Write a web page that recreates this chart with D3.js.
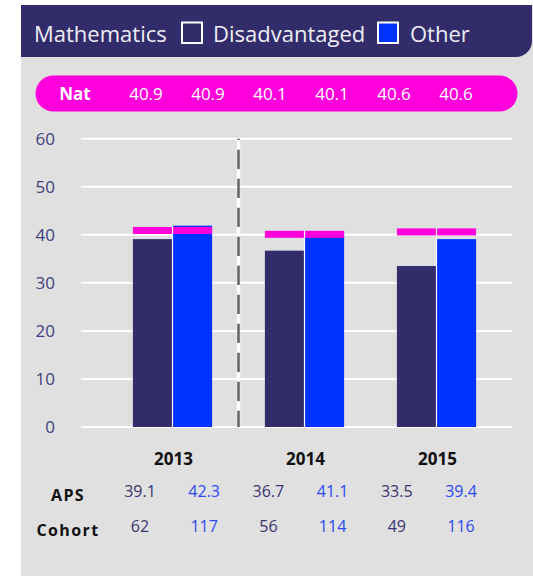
<!DOCTYPE html>
<html>
<head>
<meta charset="utf-8">
<script src="https://cdn.jsdelivr.net/npm/d3@7"></script>
<style>
  body { margin: 0; background: #fff; }
  svg { display: block; font-family: "Open Sans", sans-serif; }
</style>
</head>
<body>
<div id="chart"></div>
<script>
// data
var years = ["2013", "2014", "2015"];
var groups = ["Disadvantaged", "Other"];
var yTicks = [0, 10, 20, 30, 40, 50, 60];

// bar heights
var disBars = [39.1, 36.7, 33.5];
var othBars = [41.9, 40.4, 39.1];

// national average, one per bar (also shown in the pink strip)
var natValues = [40.9, 40.9, 40.1, 40.1, 40.6, 40.6];

// table under the chart
var apsDis = [39.1, 36.7, 33.5];
var apsOth = [42.3, 41.1, 39.4];
var cohortDis = [62, 56, 49];
var cohortOth = [117, 114, 116];

var W = 533, H = 576;
var colDark = "#332c6b", colBlue = "#0033ff", colPink = "#ff00dc";
var txtDark = "#3a356f", txtBlue = "#2a48f0";

var svg = d3.select("#chart")
  .append("svg")
    .attr("width", W)
    .attr("height", H);

// panel + header
svg.append("rect")
  .attr("x", 21).attr("y", 5)
  .attr("width", W - 21).attr("height", H - 5)
  .attr("fill", "#e0e0e0");

svg.append("path")
  .attr("d", "M21,5H532V41A16,16 0 0 1 516,57H21Z")
  .attr("fill", colDark);

svg.append("text")
  .attr("x", 34).attr("y", 42)
  .attr("font-size", 22).attr("fill", "#eeeef4")
  .text("Mathematics");

var legend = [
  {name: groups[0], fill: colDark, bx: 182, tx: 213},
  {name: groups[1], fill: colBlue, bx: 378, tx: 410}
];
legend.forEach(function(l) {
  svg.append("rect")
    .attr("x", l.bx).attr("y", 22.5)
    .attr("width", 20).attr("height", 20.5)
    .attr("fill", l.fill)
    .attr("stroke", "#fff").attr("stroke-width", 2);
  svg.append("text")
    .attr("x", l.tx).attr("y", 42)
    .attr("font-size", 22).attr("fill", "#eeeef4")
    .text(l.name);
});

// pink "Nat" strip
svg.append("rect")
  .attr("x", 35.5).attr("y", 75.5)
  .attr("width", 482).attr("height", 36)
  .attr("rx", 18)
  .attr("fill", colPink);

svg.append("text")
  .attr("x", 75).attr("y", 99.5)
  .attr("text-anchor", "middle")
  .attr("font-size", 17).attr("font-weight", "bold").attr("fill", "#fff")
  .text("Nat");

var natCol = d3.scalePoint()
  .domain(d3.range(natValues.length))
  .range([146, 456]);

svg.selectAll(".natVal")
  .data(natValues)
  .enter()
  .append("text")
    .attr("class", "natVal")
    .attr("x", function(d, i) { return natCol(i); })
    .attr("y", 100)
    .attr("text-anchor", "middle")
    .attr("font-size", 17).attr("fill", "#fff")
    .text(function(d) { return d.toFixed(1); });

// scales
var y = d3.scaleLinear()
  .domain([0, 60])
  .range([427, 138.7]);

var x = d3.scaleBand()
  .domain(years)
  .range([106.5, 502.5])
  .paddingInner(0.4)
  .paddingOuter(0.2);

var sub = d3.scaleBand()
  .domain(groups)
  .range([0, x.bandwidth()])
  .paddingInner(0.025);

// gridlines + y labels
svg.selectAll(".grid")
  .data(yTicks)
  .enter()
  .append("line")
    .attr("class", "grid")
    .attr("x1", 81).attr("x2", 512)
    .attr("y1", function(d) { return y(d); })
    .attr("y2", function(d) { return y(d); })
    .attr("stroke", "#fff").attr("stroke-width", 2);

svg.selectAll(".ylab")
  .data(yTicks)
  .enter()
  .append("text")
    .attr("class", "ylab")
    .attr("x", 55)
    .attr("y", function(d) { return y(d); })
    .attr("dy", "0.36em")
    .attr("text-anchor", "end")
    .attr("font-size", 17).attr("fill", "#423e7d")
    .text(function(d) { return d; });

// bars
var bars = [];
years.forEach(function(yr, i) {
  bars.push({year: yr, group: groups[0], value: disBars[i], nat: natValues[i * 2], fill: colDark});
  bars.push({year: yr, group: groups[1], value: othBars[i], nat: natValues[i * 2 + 1], fill: colBlue});
});

svg.selectAll(".bar")
  .data(bars)
  .enter()
  .append("rect")
    .attr("class", "bar")
    .attr("x", function(d) { return x(d.year) + sub(d.group); })
    .attr("y", function(d) { return y(d.value); })
    .attr("width", sub.bandwidth())
    .attr("height", function(d) { return y(0) - y(d.value); })
    .attr("fill", function(d) { return d.fill; });

// national marks on each bar
svg.selectAll(".natMark")
  .data(bars)
  .enter()
  .append("rect")
    .attr("class", "natMark")
    .attr("x", function(d) { return x(d.year) + sub(d.group); })
    .attr("y", function(d) { return y(d.nat) - 3.5; })
    .attr("width", sub.bandwidth())
    .attr("height", 7)
    .attr("fill", colPink);

// white split between the two bars of a year
svg.selectAll(".split")
  .data(years)
  .enter()
  .append("line")
    .attr("class", "split")
    .attr("x1", function(d) { return x(d) + sub(groups[1]) - sub.step() * 0.0125; })
    .attr("x2", function(d) { return x(d) + sub(groups[1]) - sub.step() * 0.0125; })
    .attr("y1", function(d, i) {
      return Math.min(y(natValues[i * 2]) - 3.5, y(natValues[i * 2 + 1]) - 3.5, y(disBars[i]), y(othBars[i]));
    })
    .attr("y2", y(0))
    .attr("stroke", "#fff").attr("stroke-width", 1.2);

// dashed divider after 2013
var divX = x(years[0]) + x.bandwidth() + (x.step() - x.bandwidth()) / 2;
svg.append("line")
  .attr("x1", divX).attr("x2", divX)
  .attr("y1", y(60)).attr("y2", y(0))
  .attr("stroke", "#fff").attr("stroke-width", 3.4);
svg.append("line")
  .attr("x1", divX).attr("x2", divX)
  .attr("y1", y(60)).attr("y2", y(0))
  .attr("stroke", "#666").attr("stroke-width", 2.6)
  .attr("stroke-dasharray", "19.3,9.7")
  .attr("stroke-dashoffset", 18);

// year labels
svg.selectAll(".xlab")
  .data(years)
  .enter()
  .append("text")
    .attr("class", "xlab")
    .attr("x", function(d) { return x(d) + x.bandwidth() / 2 + 1; })
    .attr("y", 465)
    .attr("text-anchor", "middle")
    .attr("font-size", 17).attr("font-weight", "bold").attr("fill", "#111")
    .text(function(d) { return d; });

// table
var tabCol = d3.scalePoint()
  .domain(d3.range(6))
  .range([140, 461]);

var rows = [
  {label: "APS", dis: apsDis, oth: apsOth, y: 497, fmt: function(v) { return v.toFixed(1); }},
  {label: "Cohort", dis: cohortDis, oth: cohortOth, y: 532, fmt: function(v) { return v; }}
];

rows.forEach(function(r) {
  svg.append("text")
    .attr("x", 68).attr("y", r.y + 4)
    .attr("text-anchor", "middle")
    .attr("font-size", 16).attr("font-weight", "bold")
    .attr("letter-spacing", 1.4).attr("fill", "#111")
    .text(r.label);

  var cells = [];
  years.forEach(function(yr, i) {
    cells.push({v: r.dis[i], c: txtDark});
    cells.push({v: r.oth[i], c: txtBlue});
  });

  svg.selectAll(null)
    .data(cells)
    .enter()
    .append("text")
      .attr("x", function(d, i) { return tabCol(i); })
      .attr("y", r.y)
      .attr("text-anchor", "middle")
      .attr("font-size", 16)
      .attr("fill", function(d) { return d.c; })
      .text(function(d) { return r.fmt(d.v); });
});
</script>
</body>
</html>
